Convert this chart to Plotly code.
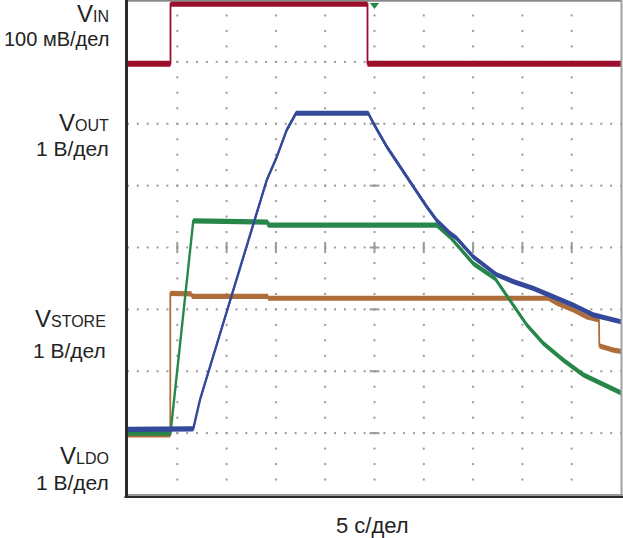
import plotly.graph_objects as go
import numpy as np

# ---- data: time in seconds (5 s/div), amplitude in screen divisions (0..8) ----
vin_t = [0, 4.31, 4.31, 24.29, 24.29, 50]
vin_y = [6.97, 6.97, 7.94, 7.94, 6.97, 6.97]

vout_t = [0, 6.62, 7.30, 9.84, 13.39, 14.07, 15.08, 16.10, 16.77, 17.04, 24.37, 24.88,
          26.24, 27.59, 28.94, 30.29, 31.31, 32.66, 33.33, 35.02, 37.39, 39.08, 41.11,
          42.80, 45.16, 47.19, 48.55, 50.0]
vout_y = [1.06, 1.07, 1.54, 2.86, 4.72, 5.09, 5.46, 5.90, 6.09, 6.17, 6.17, 6.01,
          5.63, 5.31, 4.98, 4.66, 4.44, 4.23, 4.15, 3.85, 3.56, 3.45, 3.34,
          3.23, 3.07, 2.91, 2.86, 2.80]

vstore_t = [0, 4.31, 6.62, 14.2, 14.2, 31.31, 32.66, 35.02, 37.22, 38.74, 40.44,
            42.12, 44.15, 46.18, 48.21, 50.0]
vstore_y = [1.00, 1.00, 4.43, 4.41, 4.36, 4.36, 4.17, 3.74, 3.50, 3.15, 2.75,
            2.45, 2.18, 1.94, 1.78, 1.65]

vldo_t = [0, 4.29, 4.29, 6.46, 6.46, 14.2, 14.2, 42.63, 43.48, 45.16, 46.52, 47.77,
          47.80, 49.22, 50.0]
vldo_y = [0.97, 0.97, 3.26, 3.25, 3.21, 3.21, 3.18, 3.18, 3.10, 2.99, 2.88, 2.83,
          2.41, 2.34, 2.32]

trig_t = [25.0]
trig_y = [7.92]

# labels: (main letter, subscript, scale line)
labels = [
    ("V", "IN", "100 мВ/дел"),
    ("V", "OUT", "1 В/дел"),
    ("V", "STORE", "1 В/дел"),
    ("V", "LDO", "1 В/дел"),
]
x_label = "5 с/дел"

W, H = 623, 538
ML, MR, MT, MB = 128, 2, 0, 43
PW, PH = W - ML - MR, H - MT - MB

RED = "#9c0f2c"
BLUE = "#34499a"
GREEN = "#27874a"
ORANGE = "#ae6e3b"
GRID = "#9a9a9a"
TXT = "#232323"

fig = go.Figure()

# ---- oscilloscope graticule (dotted) ----
gx, gy = [], []
for k in range(1, 10):
    for j in np.arange(0, 8.001, 0.25):
        gx.append(k * 5); gy.append(j)
for j in range(1, 8):
    for k in np.arange(0, 10.001, 0.2):
        gx.append(k * 5); gy.append(j)
fig.add_trace(go.Scatter(x=gx, y=gy, mode="markers", hoverinfo="skip",
                         marker=dict(symbol="square", size=2, color=GRID, line=dict(width=0)),
                         showlegend=False))
# centre-line dashes
cx = [k * 5 for k in range(1, 10)]
fig.add_trace(go.Scatter(x=cx, y=[4] * len(cx), mode="markers", hoverinfo="skip",
                         marker=dict(symbol="line-ns", size=8, line=dict(width=2, color=GRID)),
                         showlegend=False))
cy = list(range(1, 8))
fig.add_trace(go.Scatter(x=[25] * len(cy), y=cy, mode="markers", hoverinfo="skip",
                         marker=dict(symbol="line-ew", size=7, line=dict(width=2, color=GRID)),
                         showlegend=False))


def band(t, y, color, half, lw=2.4):
    xs = list(t) + list(t)[::-1] + [t[0]]
    ys = [v + half for v in y] + [v - half for v in y][::-1] + [y[0] + half]
    fig.add_trace(go.Scatter(x=xs, y=ys, mode="lines", fill="toself", fillcolor=color,
                             line=dict(width=0, color=color), hoverinfo="skip",
                             showlegend=False))
    fig.add_trace(go.Scatter(x=t, y=y, mode="lines", line=dict(width=lw, color=color),
                             hoverinfo="skip", showlegend=False))


hp = 2.6 / (PH / 8.0)
band(vin_t, vin_y, RED, 3.0 / (PH / 8.0), lw=1.8)
band(vldo_t, vldo_y, ORANGE, hp, lw=1.8)
band(vstore_t, vstore_y, GREEN, hp)
band(vout_t, vout_y, BLUE, hp)

fig.add_trace(go.Scatter(x=trig_t, y=trig_y, mode="markers", cliponaxis=False,
                         marker=dict(symbol="triangle-down", size=8, color=GREEN),
                         hoverinfo="skip", showlegend=False))

# ---- labels ----
def px_x(px):
    return (px - ML) / PW


def px_y(py):
    return (MT + PH - py) / PH


FONT = "Liberation Sans, Arial, sans-serif"
pos = [(14, 38, 110, 20), (122.5, 147, 110, 21), (318.5, 349.5, 107, 21), (455, 481, 110, 21)]
for (v, sub, unit), (y1, y2, xr, fs) in zip(labels, pos):
    fig.add_annotation(x=px_x(xr), y=px_y(y1), xref="paper", yref="paper",
                       text=f"<span style='font-size:24px'>{v}</span><span style='font-size:16px'>{sub}</span>",
                       showarrow=False, xanchor="right", yanchor="middle", borderpad=0,
                       font=dict(family=FONT, size=15, color=TXT))
    fig.add_annotation(x=px_x(xr), y=px_y(y2 + 1), xref="paper", yref="paper",
                       text=unit, showarrow=False, xanchor="right", yanchor="middle",
                       borderpad=0, font=dict(family=FONT, size=fs, color=TXT))
fig.add_annotation(x=px_x(372), y=px_y(525), xref="paper", yref="paper",
                   text=x_label, showarrow=False, xanchor="center", yanchor="middle",
                   font=dict(family=FONT, size=22, color=TXT))

# ---- frame ----
shapes = [
    dict(type="line", xref="paper", yref="paper", x0=px_x(ML), x1=px_x(621.5),
         y0=px_y(0.8), y1=px_y(0.8), line=dict(color="#8a8a8a", width=2)),
    dict(type="line", xref="paper", yref="paper", x0=px_x(621.5), x1=px_x(621.5),
         y0=px_y(0), y1=px_y(495), line=dict(color="#a0a0a0", width=2)),
    dict(type="line", xref="paper", yref="paper", x0=px_x(ML), x1=px_x(623),
         y0=px_y(495), y1=px_y(495), line=dict(color="#9a9a9a", width=2)),
    dict(type="line", xref="paper", yref="paper", x0=px_x(124.5), x1=px_x(623),
         y0=px_y(497), y1=px_y(497), line=dict(color="#2b2b2b", width=2)),
    dict(type="line", xref="paper", yref="paper", x0=px_x(126.5), x1=px_x(126.5),
         y0=px_y(0), y1=px_y(498), line=dict(color="#2b2b2b", width=3)),
]

fig.update_layout(
    width=W, height=H, margin=dict(l=ML, r=MR, t=MT, b=MB, pad=0),
    paper_bgcolor="white", plot_bgcolor="white", showlegend=False,
    shapes=shapes,
    xaxis=dict(range=[0, 50], showgrid=False, zeroline=False, showticklabels=False,
               ticks="", showline=False, fixedrange=True),
    yaxis=dict(range=[0, 8], showgrid=False, zeroline=False, showticklabels=False,
               ticks="", showline=False, fixedrange=True),
)

fig.write_html("out.html")
